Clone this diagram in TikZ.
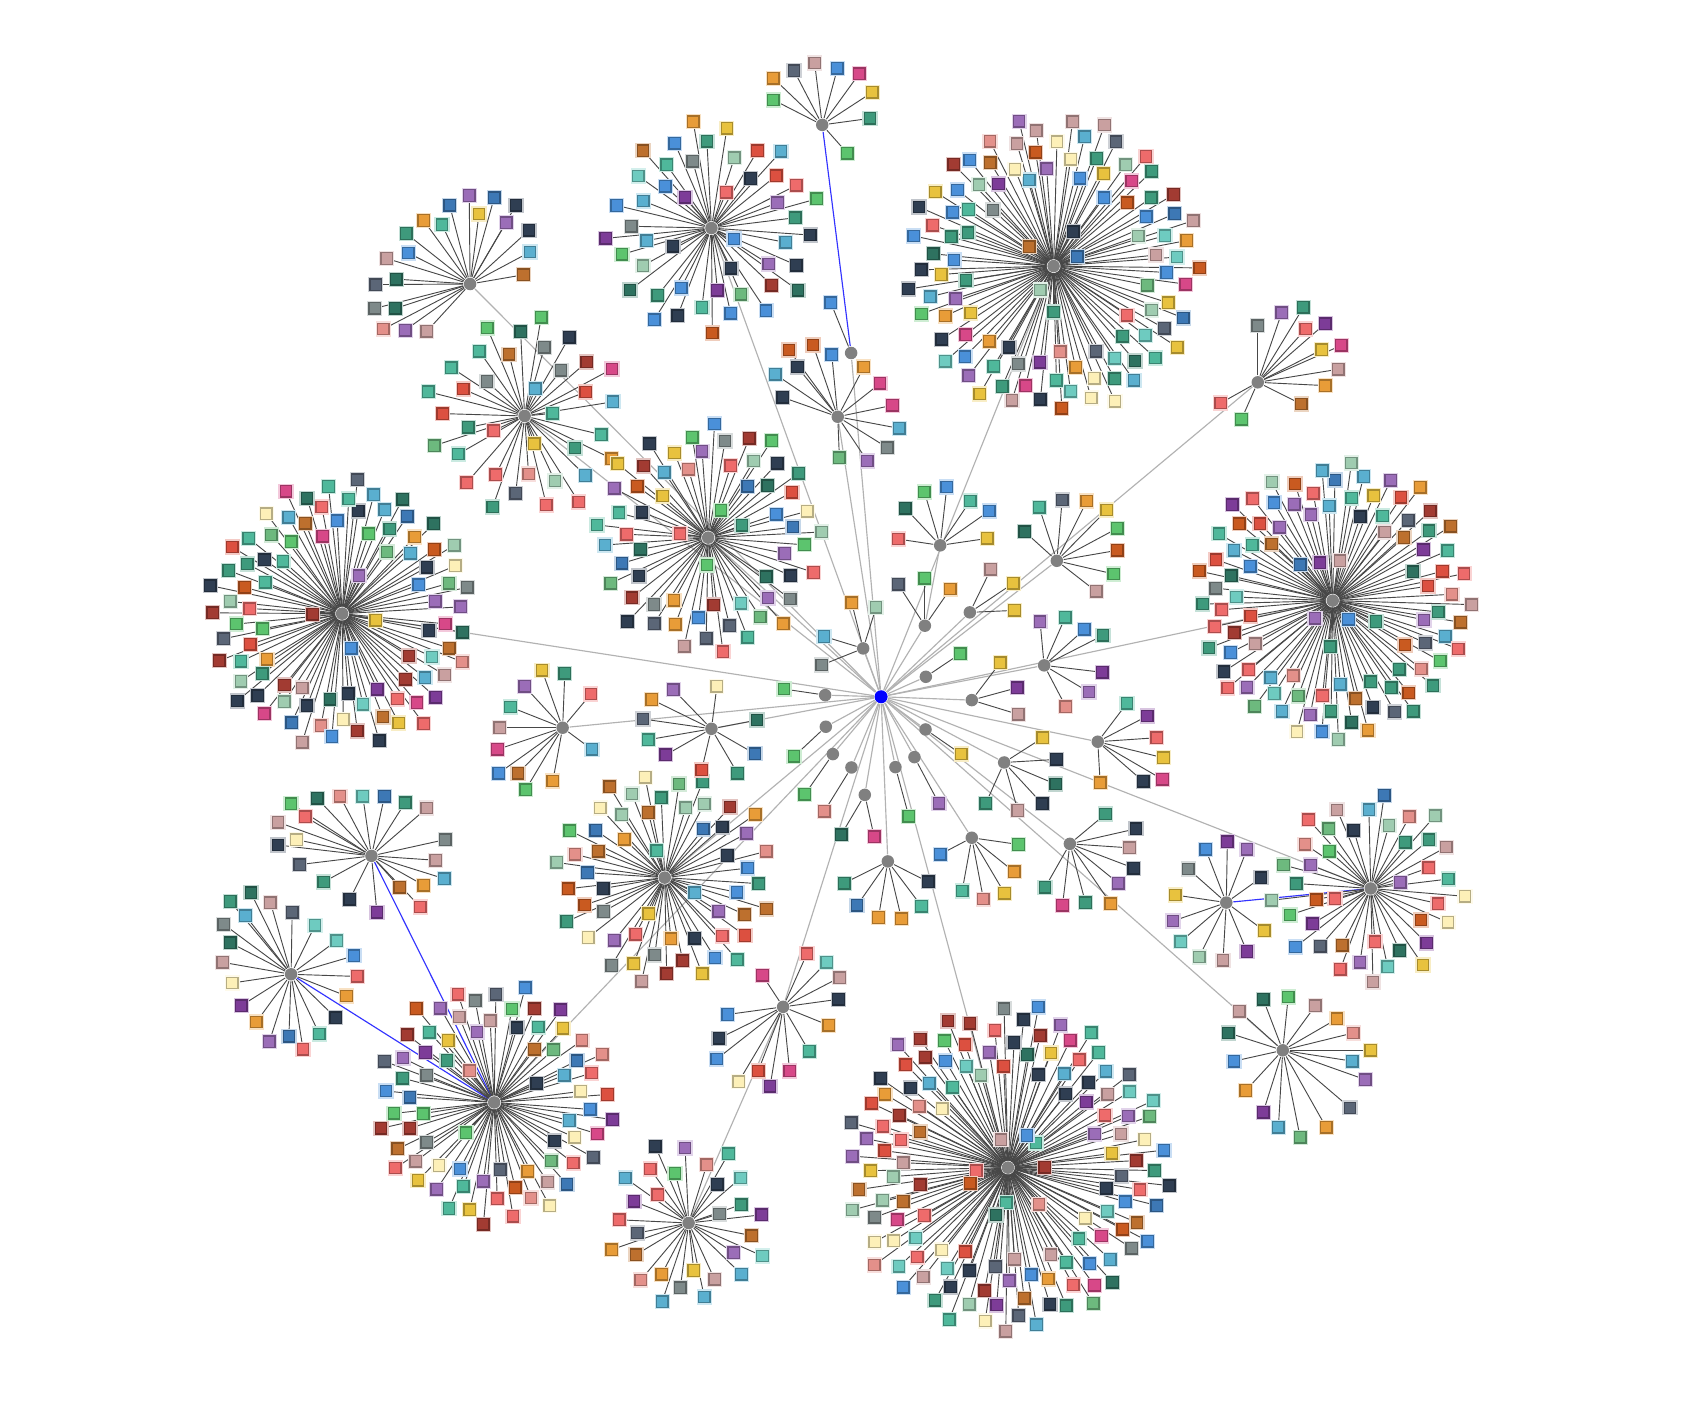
\documentclass[tikz,border=0pt]{standalone}
\pgfdeclarelayer{paper}
\pgfdeclarelayer{bg}
\pgfsetlayers{paper,bg,main}
\definecolor{bl}{HTML}{4A90D9}
\definecolor{sb}{HTML}{3D78B5}
\definecolor{lb}{HTML}{5AAFCF}
\definecolor{nv}{HTML}{2F3E52}
\definecolor{sl}{HTML}{5B6677}
\definecolor{gy}{HTML}{7E8A8A}
\definecolor{pu}{HTML}{7D3C98}
\definecolor{lv}{HTML}{9B6DB8}
\definecolor{rd}{HTML}{DC5040}
\definecolor{co}{HTML}{EE6B6B}
\definecolor{dr}{HTML}{A23B32}
\definecolor{sa}{HTML}{E3908A}
\definecolor{dp}{HTML}{C9A0A0}
\definecolor{or}{HTML}{E89C38}
\definecolor{br}{HTML}{BD702E}
\definecolor{bo}{HTML}{C95A20}
\definecolor{ye}{HTML}{E8C23E}
\definecolor{py}{HTML}{FDF0B8}
\definecolor{gr}{HTML}{5CC46E}
\definecolor{mg}{HTML}{6DB97E}
\definecolor{pg}{HTML}{9FCCB0}
\definecolor{te}{HTML}{4FB89B}
\definecolor{sg}{HTML}{3E9A7C}
\definecolor{dg}{HTML}{2E7260}
\definecolor{aq}{HTML}{6ECBC0}
\definecolor{mp}{HTML}{D74888}
\definecolor{hubgray}{HTML}{808080}
\definecolor{rootblue}{HTML}{0000FF}
\pgfmathdeclarerandomlist{pal}{{bl}{sb}{lb}{nv}{sl}{gy}{pu}{lv}{rd}{co}{dr}{sa}{dp}{or}{br}{bo}{ye}{py}{gr}{mg}{pg}{te}{sg}{dg}{aq}{mp}{nv}{te}{sg}{bl}{co}{lv}}
\tikzset{
  sqr/.style={rectangle, minimum size=1.05mm, inner sep=0pt, line width=0.35pt},
  hub/.style={circle, fill=hubgray, minimum size=1.15mm, inner sep=0pt},
  root/.style={circle, fill=rootblue, minimum size=1.2mm, inner sep=0pt},
  spoke/.style={draw=black!72, line width=0.24pt},
  link/.style={draw=black!30, line width=0.3pt},
  blink/.style={draw=blue!80, line width=0.3pt},
}
% square node: name, position, colour
\newcommand\sqn[3]{%
  \node[sqr, fill=#3, draw=#3!72!black, preaction={draw=#3!30!white, line width=1.0pt}] (#1) at (#2) {};}
% golden-angle annulus cluster: name,x,y,N,rmin,rmax,Ninner,rin
\newcommand\gclu[8]{%
  \node[hub] (#1) at (#2,#3) {};%
  \foreach \i in {1,...,#4}{%
    \pgfmathsetmacro\qa{360*(\i*0.381966-floor(\i*0.381966))+1.5*rand}%
    \pgfmathsetmacro\qr{100*sqrt((#5/100)^2+((#6/100)^2-(#5/100)^2)*(\i-0.5)/#4)+2.5*rand}%
    \pgfmathsetmacro\qx{#2+\qr*cos(\qa)}%
    \pgfmathsetmacro\qy{#3-\qr*sin(\qa)}%
    \coordinate (#1-\i) at (\qx,\qy);%
    \draw[spoke] (#1) -- (#1-\i);%
  }%
  \foreach \j in {1,...,#7}{%
    \pgfmathsetmacro\qa{\j*360/#7+30*rand}%
    \pgfmathsetmacro\qr{22+(#8-22)*rnd}%
    \pgfmathsetmacro\qx{#2+\qr*cos(\qa)}%
    \pgfmathsetmacro\qy{#3-\qr*sin(\qa)}%
    \coordinate (#1-i\j) at (\qx,\qy);%
    \draw[spoke] (#1) -- (#1-i\j);%
  }%
  \foreach \i in {1,...,#4}{\pgfmathrandomitem\qc{pal}\sqn{#1-s\i}{#1-\i}{\qc}}%
  \foreach \j in {1,...,#7}{\pgfmathrandomitem\qc{pal}\sqn{#1-si\j}{#1-i\j}{\qc}}%
}
% explicit cluster: name,x,y,list x/y/colour
\newcommand\xclu[4]{%
  \node[hub] (#1) at (#2,#3) {};%
  \foreach \qx/\qy/\qc [count=\k] in {#4} {\coordinate (#1-\k) at (\qx,\qy); \draw[spoke] (#1) -- (#1-\k);}%
  \foreach \qx/\qy/\qc [count=\k] in {#4} {\sqn{#1-s\k}{#1-\k}{\qc}}%
}

\begin{document}
\begin{tikzpicture}[x=0.01cm, y=-0.01cm]
\pgfmathsetseed{4242}
\useasboundingbox (0,0) rectangle (1567,1289);
\begin{pgfonlayer}{paper}
\fill[white] (0,0) rectangle (1567,1289);
\end{pgfonlayer}

\node[root] (root) at (811.2,641.5) {};

\gclu{B}{655}{210}{42}{55}{100}{5}{45}
\gclu{C}{970}{245}{100}{78}{138}{5}{48}
\gclu{E}{483}{383}{32}{48}{95}{4}{40}
\gclu{G}{652}{495}{58}{58}{108}{4}{40}
\gclu{H}{315}{565}{88}{70}{125}{4}{40}
\gclu{J}{1227}{553}{92}{75}{130}{7}{45}
\gclu{P}{612}{808}{52}{52}{103}{3}{40}
\gclu{Q}{455}{1015}{70}{60}{112}{3}{45}
\gclu{T}{928}{1075}{125}{82}{152}{9}{50}
\gclu{V}{1262}{818}{38}{48}{90}{2}{35}
\gclu{S}{634}{1126}{28}{40}{78}{1}{30}

\xclu{D}{432.8}{261.5}{432/180/lv, 455/182/sb, 475/189/nv, 414/189/sb, 390/203/or, 441/197/ye, 407/207/te, 466/205/lv, 487/212/nv, 374/215/sg, 488/232/lb, 376/233/bl, 356/238/dp, 482/253/br, 365/257/dg, 346/262/sl, 364/284/dg, 345/284/gy, 353/303/sa, 373/304/lv, 393/305/dp}
\xclu{N}{342}{788}{268/740/gr, 292/735/dg, 313/733/sa, 334/733/aq, 354/733/sb, 373/739/sg, 393/744/dp, 410/773/gy, 401/792/dp, 409/809/lb, 387/835/co, 347/840/pu, 322/828/nv, 298/812/sg, 276/796/sl, 256/778/nv, 256/757/dp, 281/752/co, 273/773/py, 368/817/br, 390/815/or}
\xclu{O}{268}{897}{212/830/sg, 231/822/dg, 249/831/dp, 269/840/sl, 290/852/aq, 310/866/aq, 326/880/bl, 329/899/co, 319/917/or, 309/937/nv, 294/952/te, 279/966/co, 266/954/sb, 248/959/lv, 236/941/or, 222/926/pu, 214/905/py, 205/886/dp, 206/851/gy, 212/868/dg, 226/843/lb}
\xclu{W}{1181}{967}{1141/931/dp, 1163/920/dg, 1186/918/gr, 1211/926/dp, 1231/938/or, 1246/951/sa, 1262/967/ye, 1245/977/lb, 1257/994/lv, 1243/1020/sl, 1221/1038/or, 1197/1047/mg, 1177/1038/lb, 1163/1024/pu, 1147/1004/or, 1136/977/bl, 1131/951/dg}
\xclu{L}{518}{670}{499/617/ye, 520/620/sg, 483/632/lv, 544/639/co, 470/651/te, 460/670/dp, 458/690/mp, 459/712/bl, 477/712/br, 484/727/gr, 509/719/or, 545/690/lb}
\xclu{M}{655}{671}{600/644/or, 620/635/lv, 660/632/py, 697/663/dg, 695/694/sb, 679/712/sg, 646/709/rd, 613/695/pu, 597/681/te, 592/662/sl}
\xclu{R}{721}{927}{702/898/mp, 743/878/co, 761/886/aq, 773/900/dp, 772/920/nv, 763/944/or, 745/968/te, 727/986/mp, 709/1000/pu, 698/986/rd, 680/996/py, 660/975/bl, 662/956/nv, 670/934/bl}
\xclu{U}{1129}{831}{1110/782/bl, 1130/775/pu, 1148/782/lv, 1161/808/nv, 1094/800/gy, 1082/824/ye, 1080/848/lv, 1087/867/aq, 1104/881/pg, 1126/884/dp, 1148/876/pu, 1164/857/ye}
\xclu{I}{1158}{352}{1158/300/gy, 1180/288/lv, 1200/283/sg, 1220/298/pu, 1202/303/co, 1235/318/mp, 1217/322/ye, 1232/340/dp, 1220/355/or, 1198/372/br, 1143/386/gr, 1124/371/co}
\xclu{A}{757}{115}{712/72/or, 731/65/sl, 750/58/dp, 771/63/bl, 791/68/mp, 803/85/ye, 712/92/gr, 801/109/sg, 780/141/gr}
\xclu{F1}{783.6}{325}{764.9/278.7/bl}
\xclu{F2}{771.3}{383.7}{726.5/322.3/bo, 748.6/317.7/bo, 765.8/326.6/bl, 734.2/338/nv, 713.9/344.7/lb, 720.7/365.9/nv, 795.3/338/or, 810.3/353/mp, 821.7/373.2/mp, 827.8/394.4/lb, 817/412.2/gy, 798.6/424.5/lv, 772.8/421.4/mg}
\xclu{h1}{794.7}{597}{784.2/555/or, 806.6/559.2/pg, 758.7/586/lb, 756.6/612.3/gy}
\xclu{h2}{759.7}{640}{721.9/634.4/gr}
\xclu{h3}{851.5}{576.1}{826.9/538/sl, 851.5/532.5/gr, 874.8/542.4/or}
\xclu{K1}{865.6}{502.1}{826.9/496.3/co, 833.6/468/dg, 851.1/453/gr, 871.7/448.4/bl, 893.2/461.3/te, 910.7/470.5/bl, 909.1/495.7/ye}
\xclu{h4}{892.9}{563.8}{912.2/524.2/dp, 932.8/537.1/ye, 934/562/ye}
\xclu{K2}{973}{516.3}{956.7/467.1/te, 977.9/460.4/sl, 1000.6/461.3/or, 1019/469.6/ye, 1028.5/486.5/gr, 1028.5/506.7/bo, 1025.5/528.5/gr, 1009.2/544.5/dp, 943.5/489.6/dg}
\xclu{h5}{852.4}{623.1}{884/601.9/gr}
\xclu{h6}{894.7}{644.6}{920.8/610.2/ye, 936.5/633.2/pu, 937.4/657.7/dp}
\xclu{h7}{961.3}{612.6}{957.6/572.4/lv, 980.7/568.4/te, 998.4/579.5/bl, 1015.4/585/sg, 1015/619/pu, 1002.5/637.2/lv, 981.3/650.7/sa}
\xclu{h8}{760.3}{669.1}{731.1/696.4/gr}
\xclu{h9}{852.1}{671.6}{884.9/694.3/ye}
\xclu{h10}{766.8}{694.3}{741/731.4/gr}
\xclu{h11}{783.9}{706.6}{759/746.8/sa}
\xclu{h12}{824.4}{706.3}{836.7/751.4/gr}
\xclu{h13}{841.9}{697.1}{864.4/739.7/lv}
\xclu{h14}{796.2}{731.8}{774.4/768.6/dg, 804.8/770.4/mp}
\xclu{h15}{817.4}{793.1}{777.2/813.1/sg, 789.1/833.6/sb, 808.8/844.7/or, 830/845.9/or, 848.4/834.3/te, 854.5/811.9/nv}
\xclu{h16}{894.7}{771.3}{865.6/786.6/bl, 885.8/820.4/te, 905.4/827.8/sa, 924.8/822.3/ye, 933.7/802.7/or, 937.7/777.5/gr}
\xclu{h17}{924.5}{702}{960.1/679.2/ye, 972.7/699.2/nv, 971.8/721.9/dg, 959.5/740/nv, 937.1/746.2/dp, 907.6/739.7/sg}
\xclu{h18}{1010.7}{682.9}{1037.5/647.6/te, 1056.2/659.3/pu, 1065/679.2/co, 1071.2/697.7/ye, 1070.3/717.6/mp, 1052.5/719.4/nv, 1012.9/720.7/or}
\xclu{h19}{985}{776.9}{1017.8/749.5/sg, 1045.8/763.1/nv, 1039.9/780.6/dp, 1043.9/799.3/nv, 1029.5/813.1/lv, 1022.7/832.1/or, 999.4/831.2/sg, 978.2/833.6/mp, 962.2/817/sg}

\begin{pgfonlayer}{bg}
\foreach \h in {B,C,D,E,G,H,J,P,Q,T,V,W,R,L,M,I,K2,F1,F2,h1,h2,h3,h4,h5,h6,h7,h8,h9,h10,h11,h12,h13,h14,h15,h16,h17,h18,h19}
  \draw[link] (root) -- (\h);
\draw[link] (K1) -- (h3);
\draw[link] (S) -- (R);
\draw[blink] (A) -- (F1);
\draw[blink] (U) -- (V);
\draw[blink] (N) -- (Q);
\draw[blink] (O) -- (Q);
\end{pgfonlayer}
\end{tikzpicture}
\end{document}
